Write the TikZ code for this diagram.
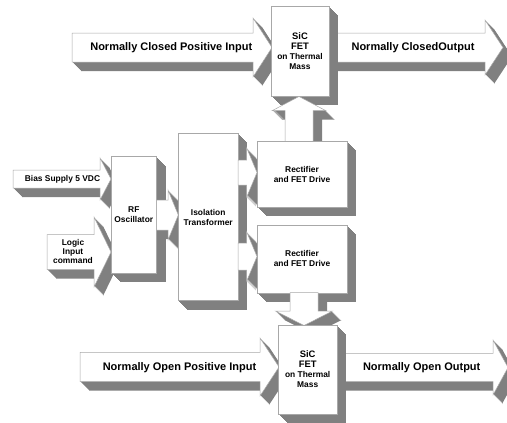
\documentclass[tikz,border=0pt]{standalone}
\usepackage{fontspec}
\setmainfont{Liberation Sans}
\usetikzlibrary{shadows}
\definecolor{sh}{HTML}{808080}
\definecolor{edgec}{HTML}{A8A8A8}
\tikzset{
  ext/.style={fill=white, draw=edgec, line width=0.5pt,
    general shadow={fill=sh, shadow xshift=1pt, shadow yshift=-1pt},
    general shadow={fill=sh, shadow xshift=2pt, shadow yshift=-2pt},
    general shadow={fill=sh, shadow xshift=3pt, shadow yshift=-3pt},
    general shadow={fill=sh, shadow xshift=4pt, shadow yshift=-4pt},
    general shadow={fill=sh, shadow xshift=5pt, shadow yshift=-5pt},
    general shadow={fill=sh, shadow xshift=6pt, shadow yshift=-6pt},
    general shadow={fill=sh, shadow xshift=7pt, shadow yshift=-7pt},
    general shadow={fill=sh, shadow xshift=8pt, shadow yshift=-8pt},
    general shadow={fill=sh, shadow xshift=9pt, shadow yshift=-9pt}},
  blockbox/.style={ext, inner sep=0pt, align=center,
    font=\fontsize{8.4}{10}\selectfont\bfseries},
  biglabel/.style={font=\fontsize{11}{13}\selectfont\bfseries},
  smalllabel/.style={font=\fontsize{8.4}{9}\selectfont\bfseries, align=center},
}
% right-pointing block arrow: tail x, head base x, apex x, centre y, shaft half, head half
\newcommand\RightBlk[6]{\draw[ext] (#1,{#4-#5}) -- (#2,{#4-#5}) -- (#2,{#4-#6}) -- (#3,#4)
  -- (#2,{#4+#6}) -- (#2,{#4+#5}) -- (#1,{#4+#5}) -- cycle;}
% vertical block arrow: centre x, tail y, head base y, apex y, shaft half, head half
\newcommand\VertBlk[6]{\draw[ext] ({#1-#5},#2) -- ({#1-#5},#3) -- ({#1-#6},#3) -- (#1,#4)
  -- ({#1+#6},#3) -- ({#1+#5},#3) -- ({#1+#5},#2) -- cycle;}
\newcommand\fbig{\fontsize{9.4}{10.5}\selectfont}
\newcommand\fsmall{\fontsize{8.4}{10}\selectfont}
\begin{document}
\begin{tikzpicture}[x=1pt, y=-1pt]
\useasboundingbox (0,0) rectangle (507,423);
% inputs to oscillator
\RightBlk{13}{100}{111}{179}{9}{21}
\node[smalllabel] (bias) at (62.5,179) {Bias Supply 5 VDC};
\RightBlk{47}{94}{111}{252}{17.5}{35}
\node[smalllabel] (logic) at (73,251.5) {Logic\\Input\\command};
% RF oscillator
\node[blockbox, minimum width=45.7pt, minimum height=116.6pt] (rf) at (133.8,215) {RF\\Oscillator};
\RightBlk{156.7}{168}{178.3}{215}{15}{25}
% isolation transformer
\node[blockbox, minimum width=59.7pt, minimum height=167.4pt] (iso) at (208.2,217) {Isolation\\Transformer};
\RightBlk{238}{246.5}{257}{172.5}{12.5}{25}
\RightBlk{238}{246.5}{257}{256.5}{13.5}{25}
% top switch
\RightBlk{72}{253}{272}{47.5}{14.5}{29.5}
\node[biglabel] (ncin) at (171.3,47.5) {Normally Closed Positive Input};
\RightBlk{320}{485}{503}{47.5}{14.5}{27.5}
\node[biglabel] (ncout) at (413,47.5) {Normally ClosedOutput};
\node[blockbox, minimum width=58pt, minimum height=90pt] (fet1) at (300,51)
  {\fbig SiC\\\fbig FET\\\fsmall on Thermal\\\fsmall Mass};
\VertBlk{299}{145}{110.5}{96.5}{14}{26.5}
% rectifiers
\node[blockbox, minimum width=90pt, minimum height=66pt] (rect1) at (302,174) {Rectifier\\and FET Drive};
\node[blockbox, minimum width=90pt, minimum height=67.7pt] (rect2) at (302,258.9) {Rectifier\\and FET Drive};
\VertBlk{304}{292.7}{311}{325.5}{14}{28.5}
% bottom switch
\RightBlk{80}{260}{279}{367}{14.7}{29}
\node[biglabel] (noin) at (179.5,367.5) {Normally Open Positive Input};
\RightBlk{330}{493}{508}{367.5}{14.2}{27.5}
\node[biglabel] (noout) at (421.7,367.5) {Normally Open Output};
\node[blockbox, minimum width=58.7pt, minimum height=89pt] (fet2) at (307.7,369.5)
  {\fbig SiC\\\fbig FET\\\fsmall on Thermal\\\fsmall Mass};
\end{tikzpicture}
\end{document}
